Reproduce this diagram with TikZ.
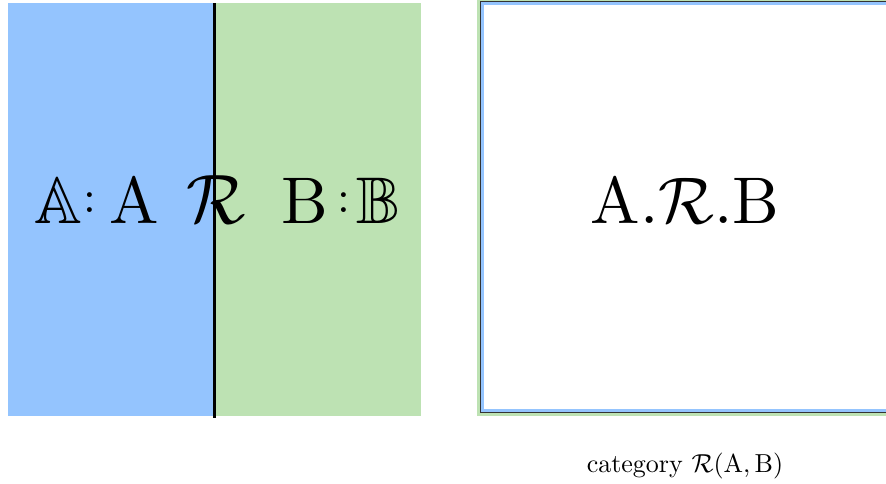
\documentclass[tikz,border=0pt]{standalone}
\usepackage{fix-cm}
\usepackage{amssymb}
\usepackage{fontspec}
\setmainfont{lmroman10-regular}[Extension=.otf]
\usepackage{tikz}
\definecolor{leftblue}{HTML}{94C4FE}
\definecolor{rightgreen}{HTML}{BDE2B3}
\newcommand{\smallcolon}{\raisebox{11pt}{\fontsize{46}{50}\selectfont :}}
\begin{document}
\begin{tikzpicture}[x=1pt, y=-1pt,
    big/.style={font=\fontsize{66}{72}\selectfont, inner sep=0pt},
    captext/.style={font=\fontsize{26}{30}\selectfont, inner sep=0pt}]
  \useasboundingbox (0,0) rectangle (886,483);
  % left square: two halves and the dividing line
  \fill[leftblue] (8,3) rectangle (214,416);
  \fill[rightgreen] (214,3) rectangle (421,416);
  \coordinate (top) at (214,3);
  \coordinate (bot) at (214,418);
  \draw[line width=3pt] (top) -- (bot);
  \node[big, anchor=base east] (la) at (159,223) {$\mathbb{A}$\kern1pt\smallcolon\kern13pt A};
  \node[big, anchor=base, font=\fontsize{70}{76}\selectfont] (rel) at (216,223) {$\mathcal{R}$};
  \node[big, anchor=base west] (rb) at (281,223) {B\kern10pt\smallcolon\kern6pt$\mathbb{B}$};
  % right square: the composite
  \fill[rightgreen] (477,0) rectangle (890,416);
  \draw[fill=leftblue, line width=1pt, draw=black!80] (480.5,1.5) rectangle (892,412);
  \fill[white] (484,5) rectangle (892,409);
  \node[big, anchor=base] (comp) at (685,223) {A.$\mathcal{R}$.B};
  \node[captext, anchor=base] (cat) at (685,472) {category $\mathcal{R}$(A,\,B)};
\end{tikzpicture}
\end{document}
